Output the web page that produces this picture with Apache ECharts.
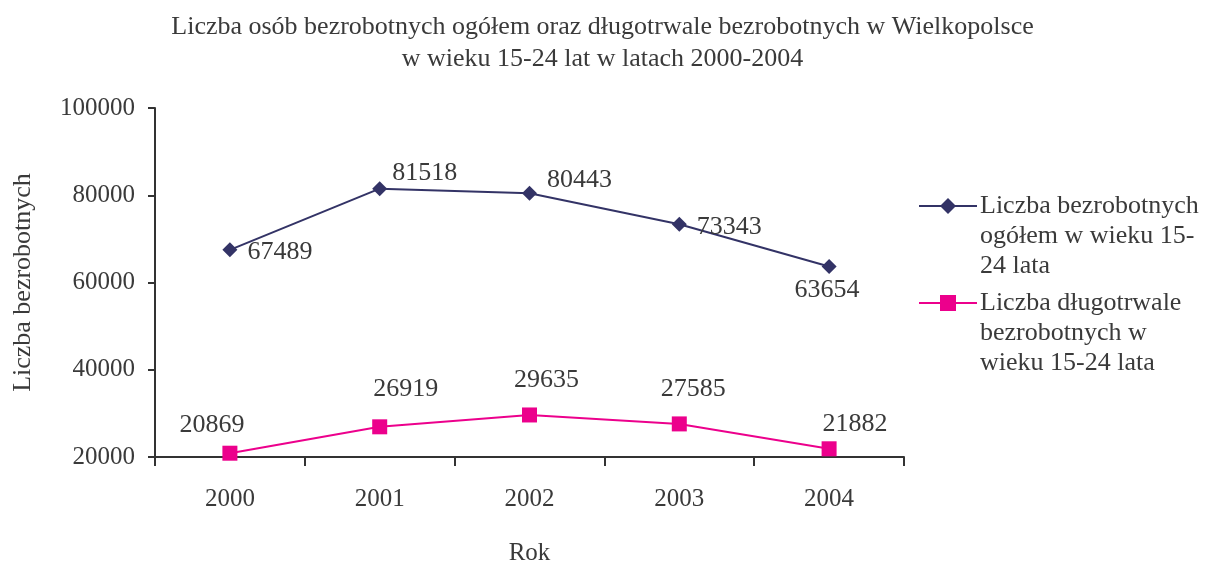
<!DOCTYPE html>
<html>
<head>
<meta charset="utf-8">
<script src="https://cdn.jsdelivr.net/npm/echarts@6/dist/echarts.min.js"></script>
<style>
  html, body { margin: 0; padding: 0; background: #fff; }
  #main { width: 1205px; height: 562px; }
</style>
</head>
<body>
<div id="main"></div>
<script>
// dane
var years = ['2000', '2001', '2002', '2003', '2004'];
var ogolem = [67489, 81518, 80443, 73343, 63654];
var dlugotrwale = [20869, 26919, 29635, 27585, 21882];
var yTicks = [20000, 40000, 60000, 80000, 100000];

// przesuniecia etykiet (styl)
var offsetsOgolem = [[50, 2], [45, -15], [50, -13], [50, 3], [-2, 24]];
var offsetsDlugo = [[-18, -28], [26, -38], [17, -35], [14, -35], [26, -25]];

var font = 'Liberation Serif, Times New Roman, serif';
var txt = '#3a3a3a';
var name1 = 'Liczba bezrobotnych\nogółem w wieku 15-\n24 lata';
var name2 = 'Liczba długotrwale\nbezrobotnych w\nwieku 15-24 lata';

function withLabels(values, offsets) {
  return values.map(function (v, i) {
    return { value: v, label: { offset: offsets[i] } };
  });
}

function legendAt(name, top) {
  return {
    data: [name],
    orient: 'vertical',
    left: 918,
    top: top,
    padding: 0,
    itemWidth: 58,
    itemHeight: 20,
    itemGap: 0,
    lineStyle: { width: 2 },
    // puste linie na poczatku: ikona przy pierwszej linii tekstu
    formatter: function (n) { return '\n\n' + n; },
    textStyle: { fontFamily: font, fontSize: 26, color: txt, lineHeight: 30, padding: [0, 0, 0, -2] }
  };
}

var chart = echarts.init(document.getElementById('main'));
chart.setOption({
  animation: false,
  textStyle: { fontFamily: font, color: txt },
  title: {
    text: 'Liczba osób bezrobotnych ogółem oraz długotrwale bezrobotnych w Wielkopolsce\nw wieku 15-24 lat w latach 2000-2004',
    left: 'center',
    top: 6,
    textStyle: { fontFamily: font, fontSize: 26, fontWeight: 'normal', color: txt, lineHeight: 32 }
  },
  grid: { left: 155, right: 301, top: 108, bottom: 105, containLabel: false, outerBoundsMode: 'none' },
  legend: [legendAt(name1, 131), legendAt(name2, 228)],
  xAxis: {
    type: 'category',
    data: years,
    boundaryGap: true,
    name: 'Rok',
    nameLocation: 'middle',
    nameGap: 84,
    nameTextStyle: { fontFamily: font, fontSize: 25, color: txt },
    axisLine: { lineStyle: { color: '#333', width: 2 } },
    axisTick: { show: true, length: 9, alignWithLabel: false, lineStyle: { color: '#333', width: 2 } },
    axisLabel: { fontFamily: font, fontSize: 25, color: txt, margin: 30 },
    splitLine: { show: false }
  },
  yAxis: {
    type: 'value',
    min: 20000,
    max: 100000,
    interval: 20000,
    name: 'Liczba bezrobotnych',
    nameLocation: 'middle',
    nameGap: 119,
    nameTextStyle: { fontFamily: font, fontSize: 26, color: txt },
    axisLine: { show: true, lineStyle: { color: '#333', width: 2 } },
    axisTick: { show: true, inside: false, length: 7, lineStyle: { color: '#333', width: 2 } },
    axisLabel: {
      fontFamily: font, fontSize: 25, color: txt, margin: 20,
      customValues: yTicks,
      formatter: function (v) { return String(v); }
    },
    splitLine: { show: false }
  },
  series: [{
    name: name1,
    type: 'line',
    data: withLabels(ogolem, offsetsOgolem),
    symbol: 'diamond',
    symbolSize: 15,
    itemStyle: { color: '#333366' },
    lineStyle: { color: '#333366', width: 2 },
    label: { show: true, position: 'inside', fontFamily: font, fontSize: 26, color: txt }
  }, {
    name: name2,
    type: 'line',
    data: withLabels(dlugotrwale, offsetsDlugo),
    symbol: 'rect',
    symbolSize: 15,
    itemStyle: { color: '#ec008c' },
    lineStyle: { color: '#ec008c', width: 2 },
    label: { show: true, position: 'inside', fontFamily: font, fontSize: 26, color: txt }
  }]
});
</script>
</body>
</html>
